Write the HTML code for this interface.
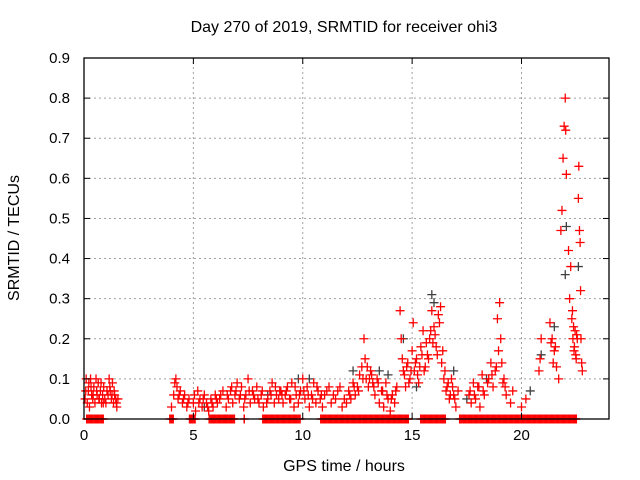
<!DOCTYPE html>
<html><head><meta charset="utf-8"><style>
body{margin:0;background:#fff}
svg{display:block;font-family:"Liberation Sans",sans-serif}
</style></head><body>
<svg id="chart" width="640" height="480">
<text x="344" y="32" text-anchor="middle" font-size="16">Day 270 of 2019, SRMTID for receiver ohi3</text>
<text x="344" y="471" text-anchor="middle" font-size="16">GPS time / hours</text>
<text transform="translate(19,238) rotate(-90)" text-anchor="middle" font-size="16">SRMTID / TECUs</text>
<g id="grid"></g><g id="gray"></g><g id="red"></g>
<rect x="84" y="58" width="525" height="361" fill="none" stroke="#000" stroke-width="1.3"/>
<g id="ticks"></g>
</svg>
<script>
const xTicks=[0,5,10,15,20];
const yTicks=[0,0.1,0.2,0.3,0.4,0.5,0.6,0.7,0.8,0.9];
const redT=[0.05,0.1,0.15,0.2,0.25,0.3,0.35,0.4,0.45,0.5,0.55,0.6,0.65,0.7,0.75,0.8,0.85,0.9,0.95,1.0,1.1,1.15,1.2,1.25,1.3,1.35,1.4,1.45,1.5,1.55,
0.08,0.22,0.32,0.42,0.58,0.68,0.78,0.88,1.05,1.18,1.28,1.38,1.48,
4.0,4.1,4.2,4.25,4.3,4.4,4.5,4.6,4.7,4.8,5.0,5.1,5.2,5.3,5.4,5.5,5.6,5.7,5.8,5.9,6.0,6.1,6.2,
4.15,4.35,4.55,4.75,5.05,5.25,5.45,5.65,5.85,6.05,6.25,6.35,
6.5,6.6,6.7,6.8,6.9,7.0,7.1,7.2,7.3,7.4,7.5,7.6,7.7,7.8,7.9,8.0,8.1,8.2,8.4,8.5,8.6,8.7,8.8,8.9,
6.55,6.75,6.95,7.15,7.35,7.55,7.75,7.95,8.15,8.35,8.55,8.75,8.95,
9.0,9.1,9.2,9.3,9.4,9.5,9.6,9.7,9.8,9.9,10.0,10.1,10.2,10.3,10.4,10.5,10.6,10.7,10.8,10.9,11.0,11.2,11.3,11.5,11.6,11.8,11.9,
9.05,9.25,9.45,9.65,9.85,10.05,10.25,10.45,10.65,10.85,11.1,11.4,11.7,
12.0,12.1,12.2,12.3,12.4,12.5,12.6,12.7,12.8,12.85,12.9,13.0,13.1,13.2,13.3,13.4,13.5,13.6,13.7,13.8,13.9,14.0,14.1,14.2,14.3,
12.15,12.35,12.55,12.75,12.95,13.05,13.15,13.25,13.45,13.65,13.85,14.05,14.25,
14.45,14.5,14.55,14.6,14.7,14.8,14.9,15.0,15.05,15.1,15.2,15.3,15.4,15.5,15.6,15.7,15.8,15.9,16.0,16.1,16.2,16.3,16.4,16.5,16.6,16.7,16.8,16.9,17.0,17.1,
14.65,14.75,14.85,14.95,15.15,15.25,15.35,15.45,15.55,15.65,15.75,15.85,15.95,16.05,16.15,16.25,16.35,16.45,16.55,16.65,16.75,16.85,16.95,
17.6,17.7,17.8,17.9,18.0,18.1,18.2,18.3,18.5,18.6,18.7,18.8,18.9,19.0,19.05,19.1,19.2,19.3,19.5,19.6,20.0,20.2,20.8,20.85,20.9,21.3,21.4,21.5,21.6,21.7,
17.65,17.85,18.05,18.25,18.45,18.65,18.85,18.95,19.15,19.25,21.35,21.45,21.55,
21.8,21.85,21.9,21.95,22.0,22.02,22.05,22.15,22.2,22.25,22.3,22.35,22.4,22.45,22.5,22.55,22.6,22.62,22.65,22.68,22.7,22.72,22.75,22.78,
22.33,22.38,22.42,22.48,22.52];
const redV=[.05,.1,.04,.07,.03,.1,.06,.05,.08,.04,.1,.06,.09,.05,.07,.04,.06,.08,.05,.04,.06,.1,.07,.05,.09,.04,.06,.05,.03,.05,
.07,.09,.08,.06,.07,.05,.09,.04,.07,.08,.06,.07,.04,
.03,.06,.1,.08,.05,.07,.04,.06,.03,.05,.04,.02,.07,.05,.03,.06,.04,.02,.05,.03,.06,.04,.05,
.09,.06,.05,.04,.06,.04,.05,.03,.04,.05,.06,.07,
.03,.05,.07,.04,.06,.09,.05,.08,.03,.06,.1,.04,.07,.05,.08,.04,.06,.03,.05,.07,.09,.04,.06,.05,
.06,.08,.07,.06,.05,.07,.06,.05,.07,.04,.06,.08,.07,
.07,.04,.06,.08,.05,.09,.03,.06,.04,.07,.1,.05,.08,.03,.06,.09,.04,.07,.05,.03,.06,.08,.04,.05,.07,.03,.05,
.06,.07,.05,.08,.06,.07,.06,.05,.08,.06,.07,.06,.08,
.04,.07,.05,.09,.06,.08,.11,.13,.2,.15,.1,.08,.12,.09,.06,.1,.04,.07,.03,.09,.05,.02,.06,.04,.08,
.06,.08,.07,.1,.13,.1,.11,.08,.09,.07,.06,.05,.07,
.27,.2,.15,.12,.08,.14,.1,.17,.24,.12,.15,.09,.18,.22,.13,.16,.2,.27,.23,.18,.26,.28,.17,.12,.08,.05,.1,.06,.03,.07,
.11,.13,.09,.12,.14,.11,.13,.16,.12,.19,.15,.22,.19,.21,.16,.24,.14,.1,.07,.09,.06,.08,.05,
.06,.04,.09,.05,.08,.03,.11,.06,.1,.14,.08,.12,.25,.29,.2,.14,.1,.06,.04,.07,.03,.05,.12,.15,.2,.24,.2,.17,.13,.1,
.07,.06,.08,.07,.09,.11,.13,.17,.09,.08,.19,.14,.18,
.47,.52,.65,.73,.8,.72,.61,.42,.3,.38,.25,.2,.17,.22,.15,.2,.55,.63,.47,.44,.32,.2,.14,.12,
.27,.23,.18,.16,.21];
const zeroStart=[0.0,3.8,4.7,5.6,7.2,8.05,10.7,15.27,17.05];
const zeroEnd=[1.0,4.2,5.2,7.0,7.45,10.0,14.95,16.64,22.63];
const grayT=[5.5,8.4,9.8,10.3,12.3,13.5,13.9,14.6,15.2,15.9,16.0,16.9,17.5,18.4,20.4,20.9,21.5,22.0,22.05,22.6];
const grayV=[.03,.06,.1,.1,.12,.12,.11,.2,.08,.31,.29,.12,.05,.1,.07,.16,.23,.36,.48,.38];
const X0=84,X1=609,Y0=419,Y1=58;
function sx(t){return X0+(t/24)*(X1-X0);}
function sy(v){return Y0-(v/0.9)*(Y0-Y1);}
const NS="http://www.w3.org/2000/svg";
function mk(tag,attrs,parent){const e=document.createElementNS(NS,tag);for(const k in attrs)e.setAttribute(k,attrs[k]);parent.appendChild(e);return e;}
const grid=document.getElementById('grid'),ticks=document.getElementById('ticks');
yTicks.forEach(v=>{const y=sy(v);
 if(v>0&&v<0.9){const g=mk('line',{x1:X0,x2:X1,y1:y,y2:y,stroke:'#a0a0a0','stroke-dasharray':'2,3'},grid);
 
 }
 mk('line',{x1:X0,x2:X0+6,y1:y,y2:y,stroke:'#000'},ticks);
 mk('line',{x1:X1,x2:X1-6,y1:y,y2:y,stroke:'#000'},ticks);
 const t=mk('text',{x:X0-14,y:y+5,'text-anchor':'end','font-size':'15'},ticks);t.textContent=v.toFixed(1);
 
 });
xTicks.forEach(v=>{const x=sx(v);
 if(v>0){const g=mk('line',{x1:x,x2:x,y1:Y0,y2:Y1,stroke:'#a0a0a0','stroke-dasharray':'2,3'},grid);
 
 }
 mk('line',{x1:x,x2:x,y1:Y0,y2:Y0-6,stroke:'#000'},ticks);
 mk('line',{x1:x,x2:x,y1:Y1,y2:Y1+6,stroke:'#000'},ticks);
 const t=mk('text',{x:x,y:Y0+21,'text-anchor':'middle','font-size':'15'},ticks);t.textContent=v;
 
 });
function plus(g,t,v,col){const x=sx(t),y=sy(v);
 return mk('path',{d:`M${x-4.5},${y}H${x+4.5}M${x},${y-4.5}V${y+4.5}`,stroke:col,'stroke-width':'1.3',fill:'none'},g);}
const gG=document.getElementById('gray'),gR=document.getElementById('red');
grayT.forEach((t,i)=>{const p=plus(gG,t,grayV[i],'#404040');
 
 });
redT.forEach((t,i)=>{const p=plus(gR,t,redV[i],'#ff0000');
 
 });
zeroStart.forEach((s,i)=>{
 const e=zeroEnd[i];
 const a=Math.min(s+0.12,(s+e)/2), b=Math.max(e-0.12,(s+e)/2);
 for(let t=a;t<=b+1e-9;t+=0.05){const p=plus(gR,t,0,'#ff0000');
 
 }
 const p=plus(gR,b,0,'#ff0000');
 
 
});
</script>
</body></html>
